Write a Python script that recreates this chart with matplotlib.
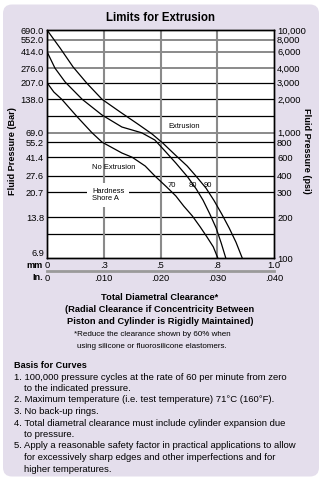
import numpy as np
import matplotlib
matplotlib.use('Agg')
import matplotlib.pyplot as plt
from matplotlib.patches import FancyBboxPatch

plt.rcParams['font.family'] = ['Liberation Sans', 'DejaVu Sans']

# ---------------- data ----------------
clearance_in_ticks = [0.0, 0.010, 0.020, 0.030, 0.040]
clearance_mm_labels = ['0', '.3', '.5', '.8', '1.0']
clearance_in_labels = ['0', '.010', '.020', '.030', '.040']

psi_ticks = [100, 200, 300, 400, 600, 800, 1000, 2000, 3000, 4000, 6000, 8000, 10000]
psi_labels = ['100', '200', '300', '400', '600', '800', '1,000', '2,000', '3,000',
              '4,000', '6,000', '8,000', '10,000']
bar_labels = ['6.9', '13.8', '20.7', '27.6', '41.4', '55.2', '69.0', '138.0', '207.0',
              '276.0', '414.0', '552.0', '690.0']

grid_psi = [150, 200, 300, 400, 600, 800, 1000, 1500, 2000, 3000, 4000, 6000, 8000]
grid_gray = [False, False, False, False, False, False, True, False, False, False, True, True, True]

# printed (non-uniform) pressure scale of the chart
scale_psi = [100, 150, 200, 300, 400, 600, 800, 1000, 1500, 2000, 3000, 4000, 6000, 8000, 10000]
scale_frac = [0, 0.104, 0.178, 0.288, 0.36, 0.442, 0.507, 0.55, 0.621, 0.696, 0.769, 0.832,
              0.905, 0.958, 1.0]

hardness_labels = ['70', '80', '90']

h90_in = [0.0, 0.0023, 0.0046, 0.0070, 0.0097, 0.0129, 0.0160, 0.0185, 0.0204, 0.0226,
          0.0247, 0.0264, 0.0280, 0.0294, 0.0308, 0.0321, 0.0333, 0.0344]
h90_psi = [10000, 6550, 4130, 2970, 2000, 1615, 1240, 970, 790, 627, 496, 392, 324, 264,
           211, 167, 131, 100]

h80_in = [0.0, 0.0014, 0.0032, 0.0062, 0.0097, 0.0132, 0.0167, 0.0190, 0.0208, 0.0227,
          0.0248, 0.0263, 0.0275, 0.0287, 0.0298, 0.0307, 0.0315]
h80_psi = [6000, 4020, 3040, 2000, 1535, 1150, 995, 845, 676, 529, 392, 318, 264, 211,
           167, 129, 100]

h70_in = [0.0, 0.0012, 0.0026, 0.0053, 0.0079, 0.0097, 0.0132, 0.0150, 0.0173, 0.0190,
          0.0211, 0.0227, 0.0241, 0.0256, 0.0270, 0.0282, 0.0293, 0.0301]
h70_psi = [3000, 2390, 2000, 1490, 1000, 805, 651, 600, 496, 400, 329, 283, 240, 205,
           170, 143, 121, 100]

notes = [
    ("1. 100,000 pressure cycles at the rate of 60 per minute from zero", 0),
    ("to the indicated pressure.", 1),
    ("2. Maximum temperature (i.e. test temperature) 71\u00b0C (160\u00b0F).", 0),
    ("3. No back-up rings.", 0),
    ("4. Total diametral clearance must include cylinder expansion due", 0),
    ("to pressure.", 1),
    ("5. Apply a reasonable safety factor in practical applications to allow", 0),
    ("for excessively sharp edges and other imperfections and for", 1),
    ("higher temperatures.", 1),
]

# ---------------- scale ----------------
_lp = np.log10(scale_psi)
_fr = np.array(scale_frac, float)


def fwd(v):
    lv = np.log10(np.clip(np.asarray(v, float), 1e-9, None))
    out = np.interp(lv, _lp, _fr)
    out = np.where(lv < _lp[0], (lv - _lp[0]) * 0.5, out)
    out = np.where(lv > _lp[-1], 1 + (lv - _lp[-1]) * 0.5, out)
    return out


def inv(f):
    f = np.asarray(f, float)
    lv = np.interp(f, _fr, _lp)
    lv = np.where(f < 0, _lp[0] + f / 0.5, lv)
    lv = np.where(f > 1, _lp[-1] + (f - 1) / 0.5, lv)
    return 10 ** lv


W, H = 323, 478
fig = plt.figure(figsize=(W / 100, H / 100), dpi=100)
fig.patch.set_facecolor('white')

panel = FancyBboxPatch((0.03, 0.015), 3.16, 4.72,
                       boxstyle='round,pad=0,rounding_size=0.09',
                       transform=fig.dpi_scale_trans, facecolor='#E4DEEC',
                       edgecolor='none', zorder=-10)
fig.patches.append(panel)


def fx(px):
    return px / W


def fy(py):
    return 1 - py / H


ax = fig.add_axes([fx(47), fy(258), 227 / W, 228 / H])
ax.set_facecolor('white')
ax.set_yscale('function', functions=(fwd, inv))
ax.set_xlim(0, 0.04)
ax.set_ylim(100, 10000)

for v, g in zip(grid_psi, grid_gray):
    ax.axhline(v, color='#8a8a8a' if g else 'black', lw=1.4 if g else 0.9, zorder=1)
for xv in clearance_in_ticks[1:-1]:
    ax.axvline(xv, color='#8a8a8a', lw=1.5, zorder=1)

for xs, ys in [(h70_in, h70_psi), (h80_in, h80_psi), (h90_in, h90_psi)]:
    ax.plot(xs, ys, color='black', lw=0.9, zorder=3)

ax.set_yticks(psi_ticks, bar_labels)
ax.set_yticks([], minor=True)
ax.set_xticks(clearance_in_ticks, clearance_mm_labels)
ax.set_xticks([], minor=True)
ax.tick_params(axis='y', length=0, pad=2.2, labelsize=6.7)
ax.tick_params(axis='x', length=0, pad=2.0, labelsize=6.7)
for s in ax.spines.values():
    s.set_linewidth(1.0)
    s.set_color('black')
# lowest bar label sits just above the bottom line, clear of the "mm" row
ax.yaxis.get_major_ticks()[0].label1.set_va('bottom')

ax2 = ax.twinx()
ax2.set_yscale('function', functions=(fwd, inv))
ax2.set_ylim(100, 10000)
ax2.set_yticks(psi_ticks, psi_labels)
ax2.set_yticks([], minor=True)
ax2.tick_params(axis='y', length=0, pad=2.2, labelsize=6.7)
for s in ax2.spines.values():
    s.set_linewidth(1.0)

sec = ax.secondary_xaxis(-13 / 228)
sec.set_xticks(clearance_in_ticks, clearance_in_labels)
sec.tick_params(length=0, pad=2.0, labelsize=6.7)
for s in sec.spines.values():
    s.set_color('#9a9a9a')
    s.set_linewidth(2.0)

# in-plot annotations
lab = dict(fontsize=5.4, transform=ax.transAxes, zorder=4)
ax.text(0.533, 0.575, 'Extrusion', ha='left', va='center', **lab)
ax.text(0.198, 0.395, 'No Extrusion', ha='left', va='center', **lab)
ax.text(0.198, 0.276, 'Hardness\nShore A', ha='left', va='center', linespacing=1.0,
        bbox=dict(facecolor='white', edgecolor='none', pad=3.5), **lab)
for t, xa in zip(hardness_labels, [0.551, 0.643, 0.709]):
    ax.text(xa, 0.32, t, ha='center', va='center', **lab)

# figure texts
fig.text(fx(161), fy(18), 'Limits for Extrusion', ha='center', va='center',
         fontsize=8.3, fontweight='bold')
fig.text(fx(13), fy(151), 'Fluid Pressure (Bar)', rotation=90, ha='center', va='center',
         fontsize=6.6, fontweight='bold')
fig.text(fx(306), fy(151), 'Fluid Pressure (psi)', rotation=-90, ha='center', va='center',
         fontsize=6.6, fontweight='bold')
fig.text(fx(42.5), fy(265.5), 'mm', ha='right', va='center', fontsize=6.6, fontweight='bold')
fig.text(fx(43.5), fy(278), 'In.', ha='right', va='center', fontsize=6.6, fontweight='bold')

fig.text(fx(160), fy(298), 'Total Diametral Clearance*', ha='center', va='center',
         fontsize=6.7, fontweight='bold')
fig.text(fx(160), fy(310), '(Radial Clearance if Concentricity Between', ha='center',
         va='center', fontsize=6.7, fontweight='bold')
fig.text(fx(160), fy(322), 'Piston and Cylinder is Rigidly Maintained)', ha='center',
         va='center', fontsize=6.7, fontweight='bold')
fig.text(fx(152), fy(335), '*Reduce the clearance shown by 60% when', ha='center',
         va='center', fontsize=5.8)
fig.text(fx(152), fy(347), 'using silicone or fluorosilicone elastomers.', ha='center',
         va='center', fontsize=5.8)

fig.text(fx(14), fy(365), 'Basis for Curves', ha='left', va='center', fontsize=6.6,
         fontweight='bold')
y0 = 377
for i, (t, ind) in enumerate(notes):
    fig.text(fx(14 + 10 * ind), fy(y0 + 11.5 * i), t, ha='left', va='center', fontsize=6.8)

fig.savefig('out.png', dpi=100, facecolor='white')
